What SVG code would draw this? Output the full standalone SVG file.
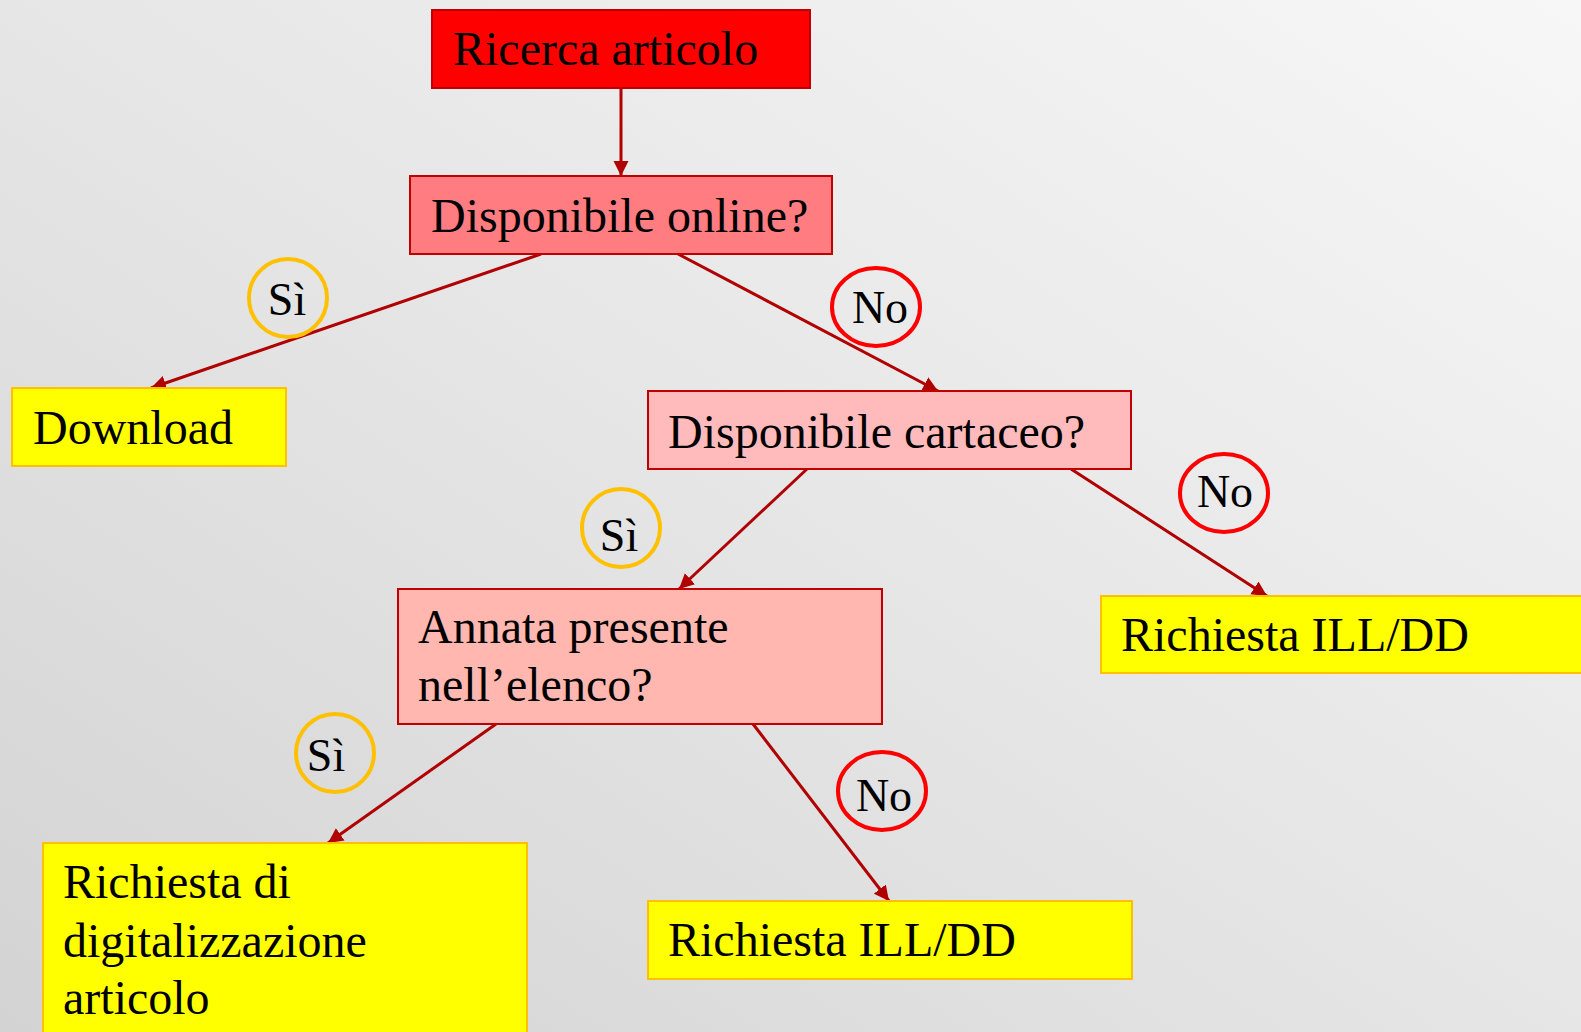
<svg xmlns="http://www.w3.org/2000/svg" width="1581" height="1032" viewBox="0 0 1581 1032">
<defs>
<linearGradient id="bg" x1="1" y1="0" x2="0" y2="1">
<stop offset="0" stop-color="#f7f7f7"/>
<stop offset="0.5" stop-color="#e6e6e6"/>
<stop offset="1" stop-color="#d3d3d3"/>
</linearGradient>
<marker id="ah" markerUnits="userSpaceOnUse" markerWidth="16" markerHeight="16" viewBox="0 0 16 16" refX="15" refY="8" orient="auto">
<path d="M0,0.5 L15,8 L0,15.5 z" fill="#b00000"/>
</marker>
<style>
text{font-family:"Liberation Serif","Times New Roman",serif;fill:#000;}
.t{font-size:48px;}
.c{font-size:46px;text-anchor:middle;}
.red{stroke:#c00000;stroke-width:2;}
.yel{fill:#ffff00;stroke:#ffc000;stroke-width:2;}
.si{fill:none;stroke:#ffc000;stroke-width:4;}
.no{fill:none;stroke:#ff0000;stroke-width:4;}
.edge{stroke:#b00000;stroke-width:3;fill:none;marker-end:url(#ah);}
</style>
</defs>
<rect x="0" y="0" width="1581" height="1032" fill="url(#bg)"/>

<g id="connectors">
<line class="edge" x1="621" y1="88" x2="621" y2="176"/>
<line class="edge" x1="541" y1="254" x2="151" y2="388"/>
<line class="edge" x1="678" y1="254" x2="938" y2="391"/>
<line class="edge" x1="807" y1="469" x2="679" y2="589"/>
<line class="edge" x1="1071" y1="469" x2="1267" y2="596"/>
<line class="edge" x1="496" y1="724" x2="328" y2="843"/>
<line class="edge" x1="753" y1="724" x2="889" y2="901"/>
</g>

<g id="ricerca">
<rect x="432" y="10" width="378" height="78" fill="#ff0000" class="red"/>
<text class="t" x="453" y="65">Ricerca articolo</text>
</g>
<g id="disp-online">
<rect x="410" y="176" width="422" height="78" fill="#ff7c80" class="red"/>
<text class="t" x="431" y="232">Disponibile online?</text>
</g>
<g id="download">
<rect x="12" y="388" width="274" height="78" class="yel"/>
<text class="t" x="33" y="444">Download</text>
</g>
<g id="disp-cartaceo">
<rect x="648" y="391" width="483" height="78" fill="#ffbbbb" class="red"/>
<text class="t" x="668" y="448">Disponibile cartaceo?</text>
</g>
<g id="annata">
<rect x="398" y="589" width="484" height="135" fill="#ffb7af" class="red"/>
<text class="t" x="418" y="643">Annata presente</text>
<text class="t" x="418" y="701">nell’elenco?</text>
</g>
<g id="ill-dd-1">
<rect x="1101" y="596" width="490" height="77" class="yel"/>
<text class="t" x="1121" y="651">Richiesta ILL/DD</text>
</g>
<g id="digitalizzazione">
<rect x="43" y="843" width="484" height="200" class="yel"/>
<text class="t" x="63" y="898">Richiesta di</text>
<text class="t" x="63" y="957">digitalizzazione</text>
<text class="t" x="63" y="1014">articolo</text>
</g>
<g id="ill-dd-2">
<rect x="648" y="901" width="484" height="78" class="yel"/>
<text class="t" x="668" y="956">Richiesta ILL/DD</text>
</g>

<g id="label-si-1">
<circle cx="288" cy="298" r="39" class="si"/>
<text class="c" x="287" y="315">Sì</text>
</g>
<g id="label-no-1">
<ellipse cx="876" cy="307" rx="44" ry="39" class="no"/>
<text class="c" x="880" y="323">No</text>
</g>
<g id="label-si-2">
<circle cx="621" cy="528" r="39" class="si"/>
<text class="c" x="619" y="551">Sì</text>
</g>
<g id="label-no-2">
<ellipse cx="1224" cy="493" rx="44" ry="39" class="no"/>
<text class="c" x="1225" y="507">No</text>
</g>
<g id="label-si-3">
<circle cx="335" cy="753" r="39" class="si"/>
<text class="c" x="326" y="771">Sì</text>
</g>
<g id="label-no-3">
<ellipse cx="882" cy="791" rx="44" ry="39" class="no"/>
<text class="c" x="884" y="811">No</text>
</g>
</svg>
